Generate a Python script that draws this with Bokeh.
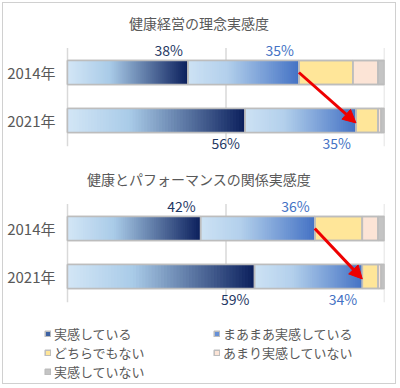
import numpy as np
from bokeh.plotting import figure
from bokeh.models import (Range1d, FixedTicker, Arrow, NormalHead, Legend,
                          LegendItem, ColumnDataSource)
from bokeh.core.properties import value
from bokeh.embed import file_html
from bokeh.resources import INLINE

# ---------------- data ----------------
years = ["2014年", "2021年"]
panel_titles = ["健康経営の理念実感度", "健康とパフォーマンスの関係実感度"]
series = ["実感している", "まあまあ実感している", "どちらでもない",
          "あまり実感していない", "実感していない"]

# panel 1: 健康経営の理念実感度  (2014, 2021)
p1_jikkan = [38, 56]
p1_maamaa = [35, 35]
p1_dochira = [17, 7]
p1_amari = [8, 1]
p1_nai = [2, 1]

# panel 2: 健康とパフォーマンスの関係実感度  (2014, 2021)
p2_jikkan = [42, 59]
p2_maamaa = [36, 34]
p2_dochira = [15, 5]
p2_amari = [5, 1]
p2_nai = [2, 1]

grid_ticks = [0, 50, 100]

panels = [
    [p1_jikkan, p1_maamaa, p1_dochira, p1_amari, p1_nai],
    [p2_jikkan, p2_maamaa, p2_dochira, p2_amari, p2_nai],
]

# ---------------- styling / layout ----------------
FONT = "Noto Sans CJK JP"
GRAY_TXT = "#595959"
BORDER = "#bdbdbd"
solid_colors = ["#3d62a3", "#6690d6", "#ffe699", "#fce4d6", "#c4c4c4"]
grad_stops = [
    [(0.0, "#d3e6f6"), (0.35, "#a9cbe8"), (1.0, "#0b1f5c")],
    [(0.0, "#cde2f4"), (0.35, "#b3d0ec"), (1.0, "#4472c4")],
]
label_colors = ["#1f3864", "#4472c4"]

YEAR_STEP = 4
PANEL_STEP = 13
BAR_H = 2.0
LABEL_OFF = 1.85
TITLE_OFF = -4.1
GRID_TOP = -2.05
GRID_BOT = 6.15
TITLE_X = 41.5
LABEL_GAP = 1.6


def hex2rgb(h):
    h = h.lstrip("#")
    return np.array([int(h[i:i + 2], 16) for i in (0, 2, 4)], dtype=float)


def grad_color(t, stops):
    for (p0, c0), (p1, c1) in zip(stops[:-1], stops[1:]):
        if t <= p1:
            f = (t - p0) / (p1 - p0)
            c = hex2rgb(c0) * (1 - f) + hex2rgb(c1) * f
            return "#%02x%02x%02x" % tuple(int(round(v)) for v in c)
    return stops[-1][1]


W, H = 394, 382
LEFT, ZERO_PX, RIGHT_PX = 41, 64, 381     # frame left, 0% and 100% positions (px)
PX_PER_UNIT = (RIGHT_PX - ZERO_PX) / 100.0
p = figure(width=W, height=H,
           x_range=Range1d(-(ZERO_PX - LEFT) / PX_PER_UNIT, 100),
           y_range=Range1d(26.083, -5.75),
           output_backend="svg", toolbar_location=None,
           x_axis_location=None,
           min_border_left=LEFT, min_border_right=W - RIGHT_PX,
           min_border_top=0, min_border_bottom=0,
           outline_line_color=None,
           styles={"border": "1px solid #d0d0d0",
                   "margin-left": "2px", "margin-top": "2px"})
p.xgrid.visible = False
p.ygrid.visible = False

rows = []
for pi in range(2):
    for yi in range(2):
        rows.append(pi * PANEL_STEP + yi * YEAR_STEP)

# grid lines
gx0, gy0, gy1 = [], [], []
for pi in range(2):
    base = pi * PANEL_STEP
    for t in grid_ticks:
        gx0.append(t)
        gy0.append(base + GRID_TOP)
        gy1.append(base + GRID_BOT)
p.segment(x0=gx0, x1=gx0, y0=gy0, y1=gy1, line_color="#d9d9d9", line_width=1.5)

# segment extents
seg = {k: dict(y=[], left=[], right=[]) for k in range(5)}
for pi, data in enumerate(panels):
    for yi in range(2):
        row = pi * PANEL_STEP + yi * YEAR_STEP
        left = 0
        for k in range(5):
            v = data[k][yi]
            seg[k]["y"].append(row)
            seg[k]["left"].append(left)
            seg[k]["right"].append(left + v)
            left += v

solid_r = []
for k in range(5):
    solid_r.append(p.hbar(y="y", left="left", right="right", height=BAR_H,
                          source=ColumnDataSource(seg[k]),
                          fill_color=solid_colors[k], line_color=BORDER,
                          line_width=1.5))

# gradient fills
N = 60
for k in range(2):
    ql, qr, qb, qt, qc = [], [], [], [], []
    for y, l, r in zip(seg[k]["y"], seg[k]["left"], seg[k]["right"]):
        w = (r - l) / N
        for i in range(N):
            ql.append(l + i * w)
            qr.append(min(r, l + (i + 1.6) * w))
            qb.append(y + BAR_H / 2)
            qt.append(y - BAR_H / 2)
            qc.append(grad_color((i + 0.5) / N, grad_stops[k]))
    p.quad(left=ql, right=qr, bottom=qb, top=qt, fill_color=qc, line_color=None)

# outlines
for k in range(5):
    p.hbar(y="y", left="left", right="right", height=BAR_H,
           source=ColumnDataSource(seg[k]),
           fill_color=None, line_color=BORDER, line_width=1.5)

# percent labels
for k in range(2):
    tx, ty, tt = [], [], []
    for pi, data in enumerate(panels):
        for yi in range(2):
            row = pi * PANEL_STEP + yi * YEAR_STEP
            idx = pi * 2 + yi
            tx.append(seg[k]["right"][idx] - LABEL_GAP)
            ty.append(row - LABEL_OFF if yi == 0 else row + LABEL_OFF)
            tt.append(f"{data[k][yi]}%")
    p.text(x=tx, y=ty, text=tt, text_align="right", text_baseline="middle",
           text_font=value(FONT), text_font_size="14px",
           text_color=label_colors[k])

# titles
p.text(x=[TITLE_X, TITLE_X], y=[TITLE_OFF, PANEL_STEP + TITLE_OFF],
       text=panel_titles, text_align="center", text_baseline="middle",
       text_font=value(FONT), text_font_size="14px", text_color=GRAY_TXT)

# arrows
for pi, data in enumerate(panels):
    r0 = pi * PANEL_STEP
    r1 = r0 + YEAR_STEP
    xs = data[0][0] + data[1][0]
    xe = data[0][1] + data[1][1]
    p.add_layout(Arrow(end=NormalHead(size=13, fill_color="#ee0000",
                                      line_color="#ee0000"),
                       x_start=xs, y_start=r0, x_end=xe, y_end=r1 + 0.2,
                       line_color="#ee0000", line_width=3))

# y axis (labels pulled toward the bars with a negative standoff)
p.yaxis.ticker = FixedTicker(ticks=rows)
p.yaxis.major_label_overrides = {r: years[i % 2] for i, r in enumerate(rows)}
p.yaxis.axis_line_color = None
p.yaxis.major_tick_line_color = None
p.yaxis.minor_tick_line_color = None
p.yaxis.major_tick_out = 0
p.yaxis.major_tick_in = 0
p.yaxis.major_label_standoff = -11
p.yaxis.major_label_text_font = FONT
p.yaxis.major_label_text_font_size = "15px"
p.yaxis.major_label_text_color = GRAY_TXT


def make_legend(ks, loc):
    lg = Legend(items=[LegendItem(label=series[k], renderers=[solid_r[k]]) for k in ks],
                location=loc, orientation="vertical",
                glyph_width=7, glyph_height=7, label_height=19,
                label_standoff=3, spacing=0, padding=0, margin=0,
                label_text_font=FONT, label_text_font_size="13px",
                label_text_color=GRAY_TXT,
                background_fill_alpha=0, border_line_alpha=0)
    p.add_layout(lg)


make_legend([0, 2, 4], (0, 4.5))
make_legend([1, 3], (169, 23.5))

open("out.html", "w").write(file_html(p, INLINE))
